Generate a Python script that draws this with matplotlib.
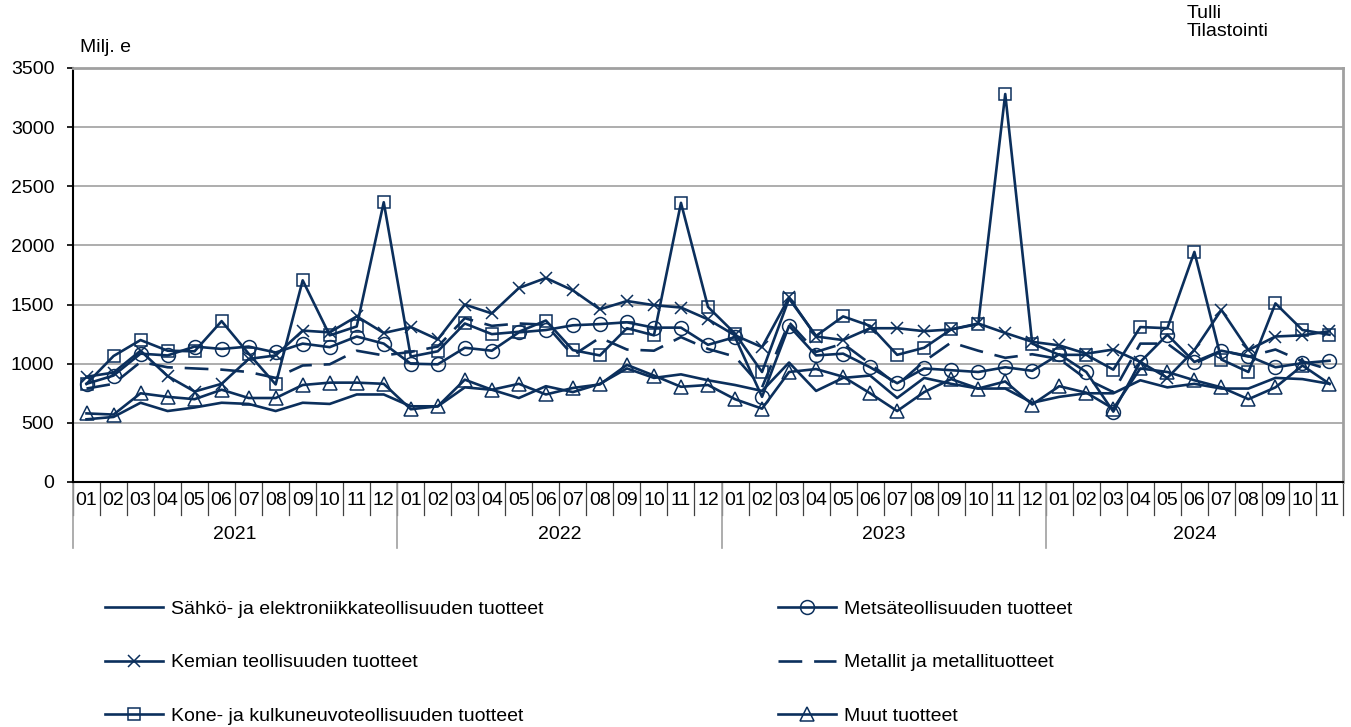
import matplotlib
matplotlib.use('Agg')
from matplotlib import pyplot as plt

plt.rcParams['font.family'] = ['Liberation Sans', 'DejaVu Sans']
plt.rcParams['font.size'] = 14

# monthly values, 2021-01 ... 2024-11 (Milj. e)
years = ['2021', '2022', '2023', '2024']
months = ['01', '02', '03', '04', '05', '06', '07', '08', '09', '10', '11', '12'] * 3 + \
         ['01', '02', '03', '04', '05', '06', '07', '08', '09', '10', '11']

sahko = [530, 550, 670, 600, 630, 670, 660, 600, 670, 660, 740, 740,
         640, 640, 800, 780, 710, 810, 760, 830, 960, 880, 910, 860,
         820, 770, 1010, 770, 880, 900, 710, 880, 830, 790, 790, 670,
         720, 750, 750, 860, 800, 830, 790, 790, 880, 870, 830]
metsa = [830, 900, 1085, 1070, 1145, 1125, 1145, 1095, 1170, 1140, 1230, 1170,
         1000, 995, 1135, 1110, 1265, 1285, 1325, 1335, 1350, 1305, 1305, 1160,
         1225, 720, 1320, 1070, 1085, 970, 835, 960, 945, 930, 970, 940,
         1080, 930, 595, 1015, 1245, 1015, 1110, 1065, 970, 1005, 1025]
kemia = [890, 925, 1110, 895, 765, 830, 1040, 1070, 1280, 1265, 1400, 1260,
         1310, 1205, 1500, 1425, 1640, 1725, 1620, 1460, 1530, 1495, 1475, 1375,
         1240, 1140, 1560, 1230, 1200, 1300, 1300, 1275, 1290, 1340, 1260, 1185,
         1155, 1085, 1120, 1015, 880, 1115, 1455, 1115, 1230, 1240, 1275]
metallit = [790, 830, 1015, 970, 960, 950, 930, 880, 985, 995, 1110, 1070,
            1100, 1145, 1385, 1320, 1340, 1330, 1070, 1220, 1120, 1110, 1225, 1125,
            1060, 800, 1350, 1100, 1170, 1000, 820, 1020, 1180, 1110, 1050, 1080,
            1040, 870, 760, 1170, 1170, 1000, 1110, 1060, 1120, 1020, 950]
kone = [830, 1065, 1200, 1110, 1105, 1360, 1085, 825, 1705, 1240, 1315, 2365,
        1060, 1105, 1340, 1250, 1270, 1365, 1115, 1070, 1300, 1240, 2360, 1480,
        1255, 930, 1550, 1235, 1400, 1320, 1075, 1135, 1290, 1335, 3280, 1170,
        1075, 1075, 950, 1310, 1300, 1945, 1035, 930, 1510, 1285, 1245]
muut = [580, 570, 750, 720, 700, 780, 710, 710, 820, 840, 840, 830,
        615, 640, 865, 780, 830, 740, 795, 825, 990, 900, 805, 820,
        700, 620, 930, 955, 890, 750, 600, 760, 870, 790, 850, 655,
        810, 755, 620, 960, 930, 860, 800, 700, 800, 985, 830]

navy = '#0b2f5c'
x = list(range(len(months)))

fig = plt.figure(figsize=(13.51, 7.27), dpi=100)
ax = fig.add_axes([73 / 1351, 1 - 482 / 727, 1270 / 1351, 414 / 727])

lw = 1.9
l1, = ax.plot(x, sahko, color=navy, lw=lw, label='Sähkö- ja elektroniikkateollisuuden tuotteet')
l2, = ax.plot(x, metsa, color=navy, lw=lw, marker='o', ms=10, mfc='none', mew=1.1,
              label='Metsäteollisuuden tuotteet')
l3, = ax.plot(x, kemia, color=navy, lw=lw, marker='x', ms=8, mew=1.1,
              label='Kemian teollisuuden tuotteet')
l4, = ax.plot(x, metallit, color=navy, lw=lw, dashes=(9, 4.5), label='Metallit ja metallituotteet')
l5, = ax.plot(x, kone, color=navy, lw=lw, marker='s', ms=8, mfc='none', mew=1.1,
              label='Kone- ja kulkuneuvoteollisuuden tuotteet')
l6, = ax.plot(x, muut, color=navy, lw=lw, marker='^', ms=10, mfc='none', mew=1.1,
              label='Muut tuotteet')

ax.set_xlim(-0.5, len(months) - 0.5)
ax.set_ylim(0, 3500)
ax.set_yticks(range(0, 3501, 500))
ax.grid(axis='y', color='#a0a0a0', lw=1.2)
ax.set_axisbelow(True)
ax.tick_params(axis='y', length=4.5, width=1.2, pad=9)

ax.set_xticks(x)
ax.set_xticklabels(months)
ax.tick_params(axis='x', length=0, pad=7)

for s in ['left', 'bottom']:
    ax.spines[s].set_color('black')
    ax.spines[s].set_linewidth(1.5)
for s in ['top', 'right']:
    ax.spines[s].set_color('#a0a0a0')
    ax.spines[s].set_linewidth(2)

# category axis separators
tr = ax.get_xaxis_transform()
for b in range(len(months) + 1):
    ax.plot([b - 0.5, b - 0.5], [0, -0.08], transform=tr, clip_on=False,
            color='#404040', lw=0.9)
starts = [0, 12, 24, 36]
for k, st in enumerate(starts):
    ax.plot([st - 0.5, st - 0.5], [0, -0.16], transform=tr, clip_on=False,
            color='#a0a0a0', lw=1.2)
    end = min(st + 12, len(months))
    ax.text((st + end - 1) / 2, -0.128, years[k], transform=tr,
            ha='center', va='center')

fig.text(80 / 1351, 1 - 47 / 727, 'Milj. e', ha='left', va='center')
fig.text(1187 / 1351, 1 - 13 / 727, 'Tulli', ha='left', va='center')
fig.text(1187 / 1351, 1 - 31 / 727, 'Tilastointi', ha='left', va='center')

# matplotlib fills legend column by column
fig.legend(handles=[l1, l3, l5, l2, l4, l6], loc='upper left',
           bbox_to_anchor=(105 / 1351, 1 - 600 / 727), ncol=2,
           frameon=False, borderpad=0, borderaxespad=0, handlelength=3.0,
           handletextpad=0.4, columnspacing=12.05, labelspacing=1.86)

fig.savefig('out.png', dpi=100)
